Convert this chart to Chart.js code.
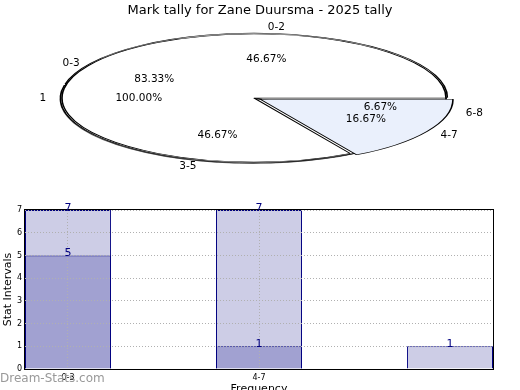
<!DOCTYPE html>
<html>
<head>
<meta charset="utf-8">
<script src="https://cdn.jsdelivr.net/npm/chart.js@4.4.1/dist/chart.umd.min.js"></script>
<style>
html, body { margin: 0; padding: 0; background: #fff; overflow: hidden; }
#wrap { position: relative; width: 520px; height: 390px; overflow: hidden; }
#wrap canvas { position: absolute; left: 0; }
#mark { position: absolute; left: 0; top: 371px; font: 12px "DejaVu Sans", sans-serif; color: #999; }
</style>
</head>
<body>
<div id="wrap">
  <canvas id="pieC" width="520" height="195" style="top:0"></canvas>
  <canvas id="pieB" width="520" height="195" style="top:0"></canvas>
  <canvas id="pieA" width="520" height="195" style="top:0"></canvas>
  <canvas id="bars" width="520" height="205" style="top:195px"></canvas>
  <div id="mark">Dream-Stats.com</div>
</div>
<script>
// pie series (three overlaid pies)
const pieALabels = ['0-3', '4-7'];
const pieAValues = [5, 1];
const pieBLabels = ['0-2', '3-5', '6-8'];
const pieBValues = [7, 7, 1];
const pieCLabels = ['1'];
const pieCValues = [1];

// bar chart
const barCats = ['0-3', '4-7', ''];
const darkVals = [5, 1, null];
const lightVals = [7, 7, 1];
const yTicks = [0, 1, 2, 3, 4, 5, 6, 7];

const FONT = '"DejaVu Sans", sans-serif';
Chart.defaults.font.family = FONT;
Chart.defaults.color = '#000';

const CX = 254, CY = 98, R = 192, FLAT = 1 / 3;

function squash(shadow) {
    return {
        id: 'squash',
        beforeDatasetsDraw(chart) {
            const arc = chart.getDatasetMeta(0).data[0];
            const ctx = chart.ctx;
            ctx.save();
            if (shadow) {
                ctx.shadowColor = 'rgba(0,0,0,0.6)';
                ctx.shadowOffsetX = -1.5;
                ctx.shadowOffsetY = 1.5;
                ctx.shadowBlur = 0.5;
            }
            ctx.translate(CX, CY);
            ctx.scale(1, -FLAT);
            ctx.translate(-arc.x, -arc.y);
        },
        afterDatasetsDraw(chart) {
            chart.ctx.restore();
        }
    };
}

// explode = label shift, lift = slice offset actually drawn
const pieSeries = [
    { labels: pieCLabels, values: pieCValues, explode: [0], lift: [0] },
    { labels: pieBLabels, values: pieBValues, explode: [3, 3, 14], lift: [6, 6, 0] },
    { labels: pieALabels, values: pieAValues, explode: [0, 14], lift: [0, 28] }
];

// slice names at 1.1R, percentages at 0.6R
const pieText = {
    id: 'pieText',
    afterDraw(chart) {
        const ctx = chart.ctx;
        ctx.save();
        ctx.font = '10.5px ' + FONT;
        ctx.fillStyle = '#000';
        ctx.textAlign = 'center';
        ctx.textBaseline = 'middle';
        pieSeries.forEach(s => {
            const total = s.values.reduce((a, b) => a + b, 0);
            let start = 0;
            s.values.forEach((v, i) => {
                const frac = v / total;
                const mid = (start + frac / 2) * 2 * Math.PI;
                start += frac;
                const e = s.explode[i] || 0;
                const ox = CX + e * Math.cos(mid);
                const oy = CY - e * Math.sin(mid) * FLAT;
                ctx.fillText(s.labels[i], ox + 1.1 * R * Math.cos(mid), oy - 1.1 * R * FLAT * Math.sin(mid));
                ctx.fillText((frac * 100).toFixed(2) + '%', ox + 0.6 * R * Math.cos(mid), oy - 0.6 * R * FLAT * Math.sin(mid));
            });
        });
        ctx.restore();
    }
};

function makePie(id, s, colors, shadow, extra) {
    return new Chart(document.getElementById(id), {
        type: 'pie',
        data: {
            labels: s.labels,
            datasets: [{
                data: s.values,
                backgroundColor: colors,
                borderColor: '#000',
                borderWidth: 1.6,
                offset: s.lift,
                hoverOffset: 0
            }]
        },
        options: {
            responsive: false,
            animation: false,
            rotation: 90,
            radius: R,
            plugins: {
                legend: { display: false },
                tooltip: { enabled: false },
                title: {
                    display: !!extra,
                    text: 'Mark tally for Zane Duursma - 2025 tally',
                    font: { size: 13, weight: 'normal' },
                    color: '#000',
                    padding: { top: 3, bottom: 0 }
                }
            }
        },
        plugins: extra ? [squash(shadow), extra] : [squash(shadow)]
    });
}

makePie('pieC', pieSeries[0], ['#fff'], true, null);
makePie('pieB', pieSeries[1], ['#fff', '#fff', '#fff'], false, null);
makePie('pieA', pieSeries[2], ['#fff', '#eaf0fc'], false, pieText);

const frame = {
    id: 'frame',
    afterDraw(chart) {
        const a = chart.chartArea, ctx = chart.ctx;
        ctx.save();
        ctx.strokeStyle = '#000';
        ctx.lineWidth = 1;
        ctx.strokeRect(Math.round(a.left) - 0.5, Math.round(a.top) - 0.5, Math.round(a.right - a.left) + 1, Math.round(a.bottom - a.top) + 1);
        ctx.restore();
    }
};

const barValues = {
    id: 'barValues',
    afterDraw(chart) {
        const ctx = chart.ctx;
        ctx.save();
        ctx.font = '11px ' + FONT;
        ctx.fillStyle = '#000080';
        ctx.textAlign = 'center';
        ctx.textBaseline = 'alphabetic';
        chart.data.datasets.forEach((ds, di) => {
            chart.getDatasetMeta(di).data.forEach((bar, i) => {
                ctx.fillText(String(ds.data[i].y), bar.x, bar.y + 1);
            });
        });
        ctx.restore();
    }
};

const toPoints = vals => vals.map((v, i) => ({ x: i, y: v })).filter(p => p.y !== null);

new Chart(document.getElementById('bars'), {
    type: 'bar',
    data: {
        datasets: [{
            data: toPoints(darkVals),
            backgroundColor: '#a1a1d1',
            borderColor: '#000080',
            borderWidth: 1,
            grouped: false,
            barPercentage: 0.45,
            categoryPercentage: 1
        }, {
            data: toPoints(lightVals),
            backgroundColor: '#cdcde6',
            borderColor: '#000080',
            borderWidth: 1,
            grouped: false,
            barPercentage: 0.45,
            categoryPercentage: 1
        }]
    },
    options: {
        responsive: false,
        animation: false,
        layout: { padding: { top: 15, right: 27, left: 0, bottom: 0 } },
        plugins: { legend: { display: false }, tooltip: { enabled: false } },
        scales: {
            x: {
                type: 'linear',
                offset: false,
                min: -0.225,
                max: 2.225,
                afterBuildTicks: s => { s.ticks = barCats.map((c, i) => ({ value: i })).filter(t => barCats[t.value]); },
                afterFit: s => { s.height = 31; },
                ticks: { callback: v => barCats[v], font: { size: 8 }, padding: 4, maxRotation: 0 },
                grid: { color: '#b0b0b0', drawTicks: false, offset: false, z: 1 },
                border: { display: false, dash: [1, 2] },
                title: { display: true, text: 'Frequency', font: { size: 11 }, padding: { top: 0, bottom: 4 } }
            },
            y: {
                min: 0,
                max: 7,
                afterBuildTicks: s => { s.ticks = yTicks.map(v => ({ value: v })); },
                afterFit: s => { s.width = 25; },
                ticks: { font: { size: 8 }, padding: 3 },
                grid: { color: '#b0b0b0', drawTicks: false, z: 1 },
                border: { display: false, dash: [1, 2] },
                title: { display: true, text: 'Stat Intervals', font: { size: 11 }, padding: { top: 2, bottom: 0 } }
            }
        }
    },
    plugins: [frame, barValues]
});
</script>
</body>
</html>
